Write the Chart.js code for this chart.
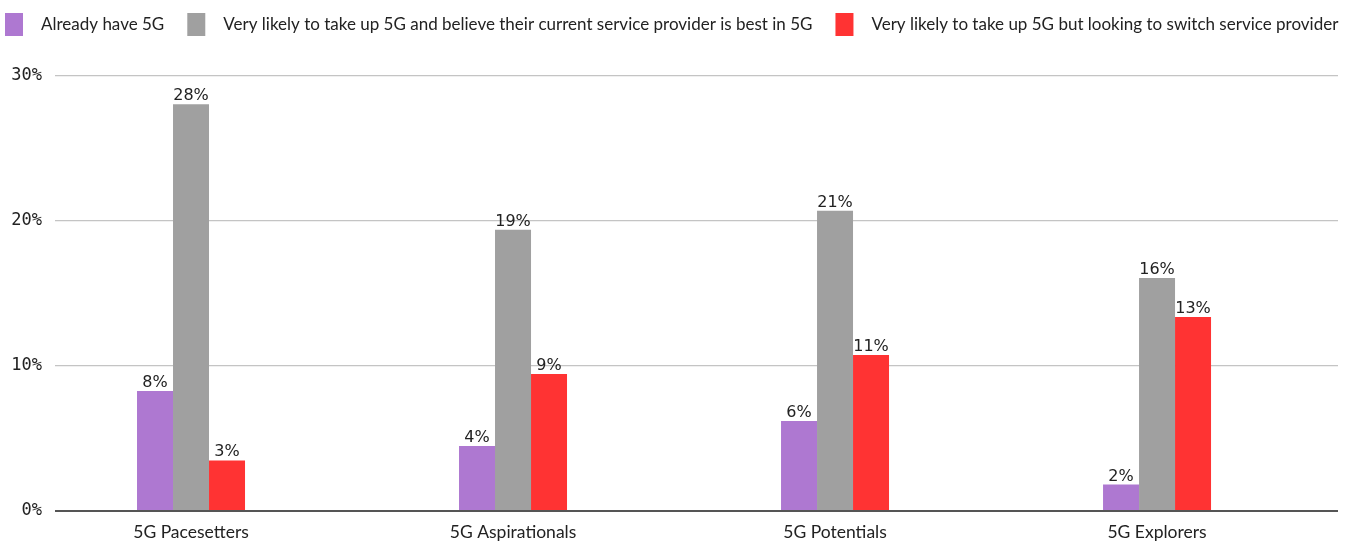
<!DOCTYPE html>
<html>
<head>
<meta charset="utf-8">
<script src="https://cdn.jsdelivr.net/npm/chart.js@4/dist/chart.umd.min.js"></script>
<style>
  html, body { margin: 0; padding: 0; background: #fff; }
  #wrap { width: 1355px; height: 543px; }
</style>
</head>
<body>
<div id="wrap"><canvas id="c" width="1355" height="543"></canvas></div>
<script>
// Segments and the share of each answer, in percent
const categories = ['5G Pacesetters', '5G Aspirationals', '5G Potentials', '5G Explorers'];
const seriesNames = [
  'Already have 5G',
  'Very likely to take up 5G and believe their current service provider is best in 5G',
  'Very likely to take up 5G but looking to switch service provider'
];
const alreadyHave = [8.28, 4.49, 6.2, 1.82];
const stayWithProvider = [28.05, 19.4, 20.7, 16.07];
const switchProvider = [3.49, 9.45, 10.76, 13.38];
const yTicks = [0, 10, 20, 30];

const colors = ['#AE78D1', '#A0A0A0', '#FF3333'];
const textColor = '#222';
const labelFont = '"Lato", "Noto Sans", sans-serif';

// Draws the rounded percentage above every bar
const barValueLabels = {
  id: 'barValueLabels',
  afterDatasetsDraw(chart) {
    const ctx = chart.ctx;
    ctx.save();
    ctx.font = '16px "DejaVu Sans"';
    ctx.fillStyle = textColor;
    ctx.textAlign = 'center';
    ctx.textBaseline = 'alphabetic';
    chart.data.datasets.forEach((ds, i) => {
      chart.getDatasetMeta(i).data.forEach((bar, j) => {
        ctx.fillText(Math.round(ds.data[j]) + '%', bar.x, bar.y - 4);
      });
    });
    ctx.restore();
  }
};

// Single-row legend across the top: box, gap, text
const topLegend = {
  id: 'topLegend',
  afterDraw(chart) {
    const ctx = chart.ctx;
    ctx.save();
    ctx.font = '17px ' + labelFont;
    ctx.textBaseline = 'middle';
    ctx.textAlign = 'left';
    let x = 5;
    chart.data.datasets.forEach(ds => {
      ctx.fillStyle = ds.backgroundColor;
      ctx.fillRect(x, 13, 18, 23);
      x += 18 + 18;
      ctx.fillStyle = textColor;
      ctx.fillText(ds.label, x, 24.5);
      x += ctx.measureText(ds.label).width + 23;
    });
    ctx.restore();
  }
};

new Chart(document.getElementById('c'), {
  type: 'bar',
  data: {
    labels: categories.map((_, i) => i),
    datasets: [
      { label: seriesNames[0], data: alreadyHave, backgroundColor: colors[0] },
      { label: seriesNames[1], data: stayWithProvider, backgroundColor: colors[1] },
      { label: seriesNames[2], data: switchProvider, backgroundColor: colors[2] }
    ]
  },
  options: {
    responsive: false,
    animation: false,
    devicePixelRatio: 1,
    layout: { padding: { left: 10, right: 17, top: 76, bottom: 0 } },
    datasets: { bar: { categoryPercentage: 0.3354, barPercentage: 1.0 } },
    plugins: {
      tooltip: { enabled: false },
      legend: { display: false }
    },
    scales: {
      x: {
        type: 'linear',
        offset: false,
        min: -0.4224,
        max: 3.562,
        afterBuildTicks(axis) { axis.ticks = categories.map((_, i) => ({ value: i })); },
        afterFit(axis) { axis.height = 32; },
        grid: { display: false, drawTicks: false },
        border: { display: false },
        ticks: {
          color: textColor,
          padding: 11,
          autoSkip: false,
          maxRotation: 0,
          font: { family: labelFont, size: 17.5 },
          callback: v => categories[v]
        }
      },
      y: {
        min: 0,
        max: 30,
        afterBuildTicks(axis) { axis.ticks = yTicks.map(v => ({ value: v })); },
        afterFit(axis) { axis.width = 45; },
        border: { display: false },
        grid: {
          drawTicks: false,
          color: ctx => ctx.tick && ctx.tick.value === 0 ? '#555' : '#c4c4c4',
          lineWidth: ctx => ctx.tick && ctx.tick.value === 0 ? 2 : 1.2
        },
        ticks: {
          color: textColor,
          padding: 13,
          font: { family: 'DejaVu Sans Mono', size: 17 },
          callback: v => v + '%'
        }
      }
    }
  },
  plugins: [barValueLabels, topLegend]
});
</script>
</body>
</html>
